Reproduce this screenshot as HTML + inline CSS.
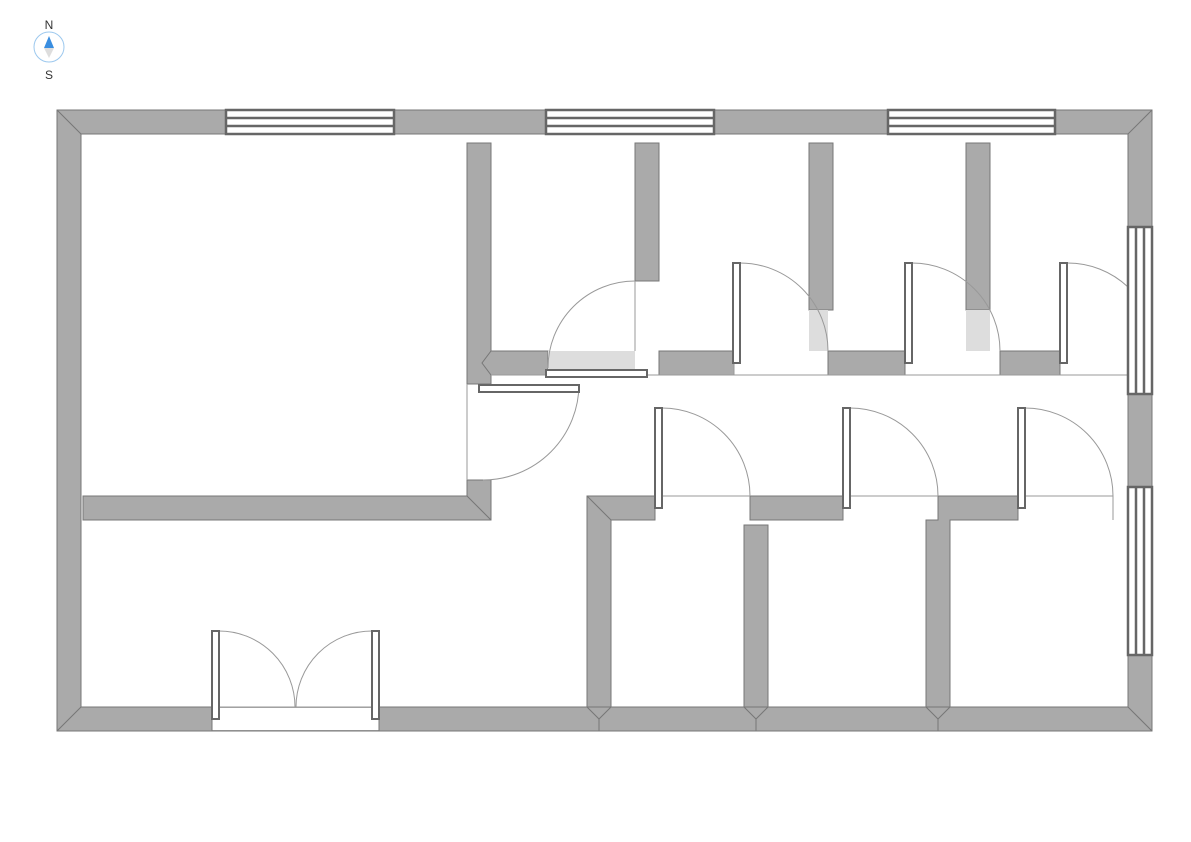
<!DOCTYPE html>
<html><head><meta charset="utf-8"><style>html,body{margin:0;padding:0;background:#fff}svg{display:block}</style></head>
<body>
<svg width="1191" height="842" viewBox="0 0 1191 842" xmlns="http://www.w3.org/2000/svg" font-family="Liberation Sans, sans-serif">
<rect width="1191" height="842" fill="#fff"/>
<!-- compass -->
<text x="49" y="29" font-size="12" text-anchor="middle" fill="#333">N</text>
<circle cx="49" cy="47" r="15" fill="#fff" stroke="#9cc8ee" stroke-width="1"/>
<polygon points="49,36 44,48 54,48" fill="#3a8ee0"/>
<polygon points="44,48 54,48 49,58" fill="#ddd"/>
<text x="49" y="79" font-size="12" text-anchor="middle" fill="#333">S</text>

<g fill="#aaa" stroke="#777" stroke-width="1">
<!-- outer walls -->
<path d="M57,110 H1152 V731 H57 Z M81,134 V707 H1128 V134 Z" fill-rule="evenodd"/>
<line x1="57" y1="110" x2="81" y2="134"/><line x1="1152" y1="110" x2="1128" y2="134"/>
<line x1="57" y1="731" x2="81" y2="707"/><line x1="1152" y1="731" x2="1128" y2="707"/>
<!-- left room walls -->
<rect x="467" y="143" width="24" height="241"/>
<polygon points="83,496 467,496 467,480 491,480 491,520 83,520"/>
<line x1="467" y1="496" x2="491" y2="520"/>
<!-- corridor north wall -->
<polygon points="491,351 548,351 548,375 491,375 482,363"/>
<rect x="635" y="143" width="24" height="138"/>
<rect x="659" y="351" width="75" height="24"/>
<rect x="809" y="143" width="24" height="167"/>
<rect x="828" y="351" width="77" height="24"/>
<rect x="966" y="143" width="24" height="167"/>
<rect x="1000" y="351" width="60" height="24"/>
<!-- corridor south wall -->
<polygon points="587,496 655,496 655,520 611,520 611,707 587,707"/>
<rect x="750" y="496" width="93" height="24"/>
<polygon points="938,496 1018,496 1018,520 950,520 950,707 926,707 926,520 938,520"/>
<rect x="744" y="525" width="24" height="182"/>
<line x1="587" y1="496" x2="611" y2="520"/>
<line x1="599" y1="719" x2="599" y2="731"/><line x1="756" y1="719" x2="756" y2="731"/><line x1="938" y1="719" x2="938" y2="731"/>
<polyline points="587,707 599,719 611,707" fill="none"/>
<polyline points="744,707 756,719 768,707" fill="none"/>
<polyline points="926,707 938,719 950,707" fill="none"/>
</g>
<!-- door opening in outer wall -->
<rect x="212" y="708" width="167" height="22" fill="#fff"/>
<!-- light gray swing overlaps -->
<g fill="#ddd">
<rect x="548" y="351" width="87" height="20"/>
<rect x="809" y="310" width="19" height="41"/>
<rect x="966" y="310" width="24" height="41"/>
</g>
<!-- thin lines -->
<g stroke="#999" stroke-width="1" fill="none">
<line x1="491" y1="375" x2="1128" y2="375"/>
<line x1="467" y1="384" x2="467" y2="480"/>
<line x1="635" y1="281" x2="635" y2="351"/>
<line x1="662" y1="496" x2="750" y2="496"/>
<line x1="850" y1="496" x2="938" y2="496"/>
<line x1="1025" y1="496" x2="1113" y2="496"/>
<line x1="1113" y1="496" x2="1113" y2="520"/>
<line x1="219" y1="707" x2="372" y2="707"/>
<line x1="212" y1="731" x2="379" y2="731" stroke="#777"/>
<line x1="212" y1="707" x2="212" y2="731" stroke="#777"/><line x1="379" y1="707" x2="379" y2="731" stroke="#777"/>
<line x1="734" y1="363" x2="734" y2="375"/>
<!-- arcs -->
<path d="M635,281 A87,87 0 0 0 548,368"/>
<path d="M579,384 A96,96 0 0 1 483,480"/>
<path d="M740,263 A88,88 0 0 1 828,351"/>
<path d="M912,263 A88,88 0 0 1 1000,351"/>
<path d="M1067,263 A88,88 0 0 1 1128,287"/>
<path d="M662,408 A88,88 0 0 1 750,496"/>
<path d="M850,408 A88,88 0 0 1 938,496"/>
<path d="M1025,408 A88,88 0 0 1 1113,496"/>
<path d="M219,631 A76,76 0 0 1 295,707"/>
<path d="M372,631 A76,76 0 0 0 296,707"/>
</g>
<!-- door leaves -->
<g fill="#fff" stroke="#666" stroke-width="2">
<rect x="546" y="370" width="101" height="7"/>
<rect x="479" y="385" width="100" height="7"/>
<rect x="733" y="263" width="7" height="100"/>
<rect x="905" y="263" width="7" height="100"/>
<rect x="1060" y="263" width="7" height="100"/>
<rect x="655" y="408" width="7" height="100"/>
<rect x="843" y="408" width="7" height="100"/>
<rect x="1018" y="408" width="7" height="100"/>
<rect x="212" y="631" width="7" height="88"/>
<rect x="372" y="631" width="7" height="88"/>
</g>
<!-- windows -->
<g fill="#fff" stroke="#666" stroke-width="2.5">
<rect x="226" y="110" width="168" height="24"/>
<line x1="226" y1="118" x2="394" y2="118"/><line x1="226" y1="126" x2="394" y2="126"/>
<rect x="546" y="110" width="168" height="24"/>
<line x1="546" y1="118" x2="714" y2="118"/><line x1="546" y1="126" x2="714" y2="126"/>
<rect x="888" y="110" width="167" height="24"/>
<line x1="888" y1="118" x2="1055" y2="118"/><line x1="888" y1="126" x2="1055" y2="126"/>
<rect x="1128" y="227" width="24" height="167"/>
<line x1="1136" y1="227" x2="1136" y2="394"/><line x1="1144" y1="227" x2="1144" y2="394"/>
<rect x="1128" y="487" width="24" height="168"/>
<line x1="1136" y1="487" x2="1136" y2="655"/><line x1="1144" y1="487" x2="1144" y2="655"/>
</g>
</svg>
</body></html>
